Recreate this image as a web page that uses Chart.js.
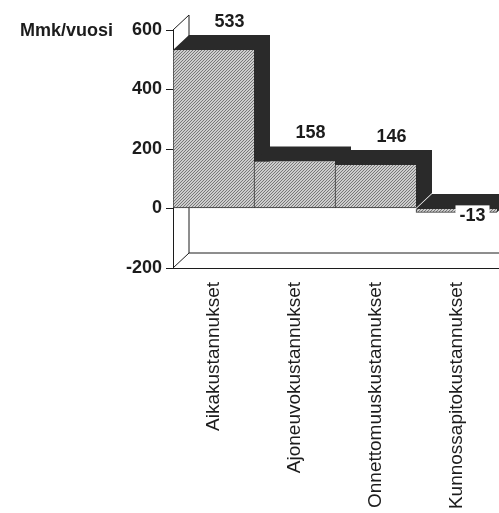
<!DOCTYPE html>
<html>
<head>
<meta charset="utf-8">
<script src="https://cdn.jsdelivr.net/npm/chart.js@4.4.1/dist/chart.umd.min.js"></script>
<style>
  html, body { margin: 0; padding: 0; background: #fff; overflow: hidden; }
  canvas { display: block; }
</style>
</head>
<body>
<canvas id="chart" width="499" height="513"></canvas>
<script>
// Cost categories and annual values (Mmk per year)
const categories = ['Aikakustannukset', 'Ajoneuvokustannukset', 'Onnettomuuskustannukset', 'Kunnossapitokustannukset'];
const costs = [533, 158, 146, -13];
const yTicks = [-200, 0, 200, 400, 600];
const unitLabel = 'Mmk/vuosi';

// Perspective offset of the box depth (right and up)
const DEPTH_X = 16;
const DEPTH_Y = -15;
const INK = '#1c1c1c';
const SHADE = '#2a2a2a';

// Fine diagonal hatching for the front faces
function makeHatch() {
  const c = document.createElement('canvas');
  c.width = 3; c.height = 3;
  const g = c.getContext('2d');
  const img = g.createImageData(3, 3);
  for (let yy = 0; yy < 3; yy++) {
    for (let xx = 0; xx < 3; xx++) {
      const on = (xx + yy) % 3 === 2;
      const v = on ? 120 : 205;
      const i = (yy * 3 + xx) * 4;
      img.data[i] = v; img.data[i + 1] = v; img.data[i + 2] = v; img.data[i + 3] = 255;
    }
  }
  g.putImageData(img, 0, 0);
  return document.getElementById('chart').getContext('2d').createPattern(c, 'repeat');
}

const boxDepth = {
  id: 'boxDepth',
  beforeDatasetsDraw(chart) {
    const { ctx, chartArea: a } = chart;
    const W = chart.width;
    ctx.save();
    // walls and floor edges
    ctx.strokeStyle = INK;
    ctx.lineWidth = 1;
    ctx.beginPath();
    ctx.moveTo(a.left, a.top);
    ctx.lineTo(a.left + DEPTH_X, a.top + DEPTH_Y);
    ctx.lineTo(a.left + DEPTH_X, a.bottom + DEPTH_Y);
    ctx.lineTo(W, a.bottom + DEPTH_Y);
    ctx.moveTo(a.left + DEPTH_X, a.bottom + DEPTH_Y);
    ctx.lineTo(a.left, a.bottom);
    ctx.moveTo(a.left - 7, a.bottom + 0.5);
    ctx.lineTo(W, a.bottom + 0.5);
    ctx.stroke();

    // top and right side faces of each bar
    const meta = chart.getDatasetMeta(0);
    ctx.fillStyle = SHADE;
    meta.data.forEach(bar => {
      const l = bar.x - bar.width / 2;
      const r = bar.x + bar.width / 2;
      const t = Math.min(bar.y, bar.base);
      const b = Math.max(bar.y, bar.base);
      ctx.beginPath();
      ctx.moveTo(l, t);
      ctx.lineTo(l + DEPTH_X, t + DEPTH_Y);
      ctx.lineTo(r + DEPTH_X, t + DEPTH_Y);
      ctx.lineTo(r + DEPTH_X, b + DEPTH_Y);
      ctx.lineTo(r, b);
      ctx.lineTo(r, t);
      ctx.closePath();
      ctx.fill();
    });
    ctx.restore();
  },
  afterDatasetsDraw(chart) {
    const { ctx } = chart;
    const meta = chart.getDatasetMeta(0);
    ctx.save();
    ctx.font = 'bold 18px "Liberation Sans", Arial, sans-serif';
    ctx.textAlign = 'center';
    ctx.fillStyle = INK;
    meta.data.forEach((bar, i) => {
      const v = costs[i];
      const cx = bar.x + DEPTH_X;
      if (v >= 0) {
        ctx.textBaseline = 'bottom';
        ctx.fillText(String(v), cx, bar.y + DEPTH_Y - 4);
      } else {
        const txt = String(v);
        const w = ctx.measureText(txt).width;
        const cy = bar.y + 3;
        ctx.fillStyle = '#fff';
        ctx.fillRect(cx - w / 2 - 4, cy - 10, w + 8, 20);
        ctx.fillStyle = INK;
        ctx.textBaseline = 'middle';
        ctx.fillText(txt, cx, cy + 1);
      }
    });
    // unit caption beside the top tick
    const yScale = chart.scales.y;
    ctx.textAlign = 'left';
    ctx.textBaseline = 'middle';
    ctx.fillText(unitLabel, 20, yScale.getPixelForValue(yTicks[yTicks.length - 1]) + 1);
    ctx.restore();
  }
};

new Chart(document.getElementById('chart'), {
  type: 'bar',
  data: {
    labels: categories,
    datasets: [{
      data: costs,
      backgroundColor: makeHatch(),
      borderColor: '#333',
      borderWidth: { left: 1, bottom: 1, top: 0, right: 0 },
      borderSkipped: false,
      barPercentage: 1,
      categoryPercentage: 1
    }]
  },
  options: {
    responsive: false,
    animation: false,
    events: [],
    layout: { padding: { top: 30, right: 2, left: 0, bottom: 0 } },
    plugins: { legend: { display: false }, tooltip: { enabled: false }, title: { display: false } },
    scales: {
      x: {
        grid: { display: false, drawTicks: false },
        border: { display: false },
        ticks: {
          color: INK,
          font: { family: '"Liberation Sans", Arial, sans-serif', size: 19 },
          maxRotation: 90, minRotation: 90,
          padding: 14,
          autoSkip: false
        },
        afterFit(s) { s.height = 245; }
      },
      y: {
        min: yTicks[0],
        max: yTicks[yTicks.length - 1],
        afterBuildTicks(s) { s.ticks = yTicks.map(v => ({ value: v })); },
        grid: { drawOnChartArea: false, drawTicks: true, tickLength: 7, color: INK },
        border: { display: true, color: INK, width: 1 },
        ticks: {
          color: INK,
          padding: 4,
          font: { family: '"Liberation Sans", Arial, sans-serif', size: 18, weight: 'bold' }
        },
        afterFit(s) { s.width = 173; }
      }
    }
  },
  plugins: [boxDepth]
});
</script>
</body>
</html>
